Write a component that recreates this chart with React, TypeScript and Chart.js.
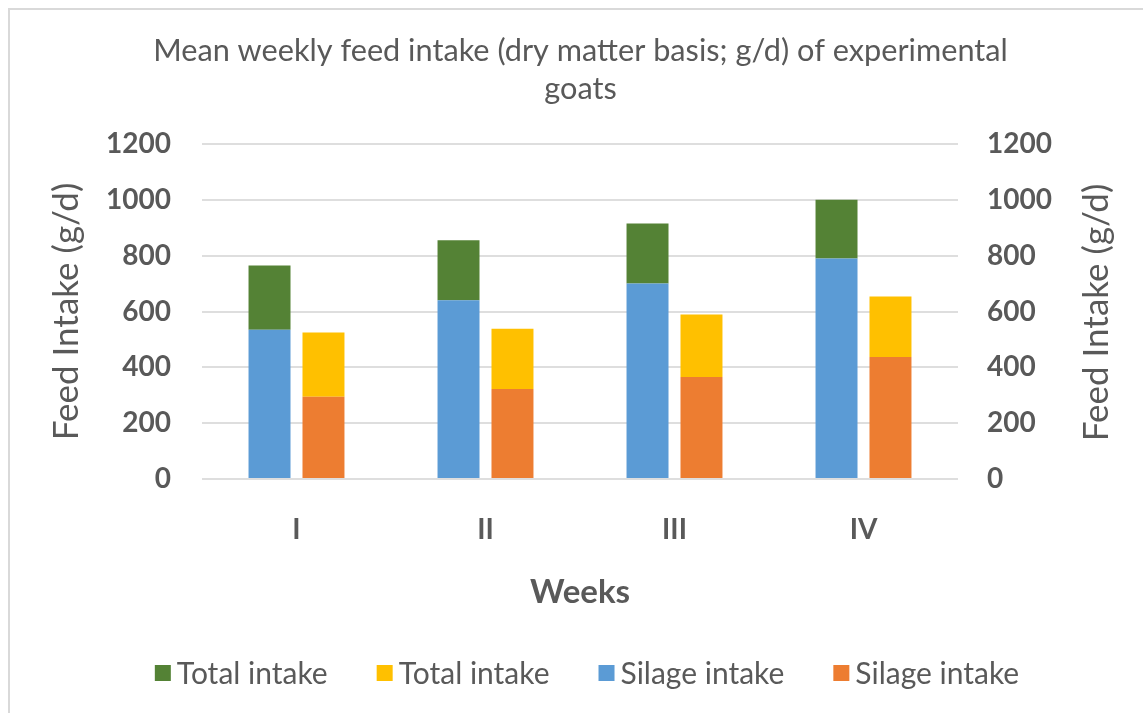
import { useEffect, useRef } from 'react';
import { Chart, registerables } from 'chart.js';

Chart.register(...registerables);

const weeks = ['I', 'II', 'III', 'IV'];
const silageLeft = [535, 640, 700, 790];
const totalTopLeft = [230, 215, 215, 210];
const silageRight = [295, 322, 365, 437];
const totalTopRight = [230, 216, 224, 217];
const yTickValues = [0, 200, 400, 600, 800, 1000, 1200];

const titleLines = ['Mean weekly feed intake (dry matter basis; g/d) of experimental', 'goats'];
const yTitle = 'Feed Intake (g/d)';
const xTitle = 'Weeks';

const GREEN = '#548235';
const YELLOW = '#FFC000';
const BLUE = '#5B9BD5';
const ORANGE = '#ED7D31';
const TEXT = '#595959';
const FONT = 'Lato';

const rightTitlePlugin = {
  id: 'rightTitle',
  afterDraw(chart: any) {
    const { ctx, chartArea } = chart;
    const s = chart.scales.y2;
    ctx.save();
    ctx.font = `35px ${FONT}`;
    ctx.fillStyle = TEXT;
    ctx.textAlign = 'center';
    ctx.textBaseline = 'middle';
    ctx.translate(s.right - 46, (chartArea.top + chartArea.bottom) / 2 + 1);
    ctx.rotate(-Math.PI / 2);
    ctx.fillText(yTitle, 0, 0);
    ctx.restore();
  },
};

const legendPlugin = {
  id: 'customLegend',
  afterDraw(chart: any) {
    const { ctx } = chart;
    const box = 16;
    const boxGap = 6;
    const itemGap = 49;
    ctx.save();
    ctx.font = `30px ${FONT}`;
    ctx.textBaseline = 'middle';
    ctx.textAlign = 'left';
    const items = chart.data.datasets.map((d: any) => ({
      text: d.label,
      color: d.backgroundColor,
      w: ctx.measureText(d.label).width,
    }));
    const total =
      items.reduce((a: number, it: any) => a + box + boxGap + it.w, 0) + itemGap * (items.length - 1);
    let x = 577 - total / 2;
    const cy = 663;
    items.forEach((it: any) => {
      ctx.fillStyle = it.color;
      ctx.fillRect(x, cy - box / 2, box, box);
      ctx.fillStyle = TEXT;
      ctx.fillText(it.text, x + box + boxGap, cy + 1);
      x += box + boxGap + it.w + itemGap;
    });
    ctx.restore();
  },
};

export default function App() {
  const ref = useRef<HTMLCanvasElement>(null);

  useEffect(() => {
    if (!ref.current) return;
    Chart.defaults.font.family = FONT;
    const chart = new Chart(ref.current, {
      type: 'bar',
      data: {
        labels: weeks,
        datasets: [
          { label: 'Total intake', data: totalTopLeft, backgroundColor: GREEN, stack: 'a', order: 2 },
          { label: 'Total intake', data: totalTopRight, backgroundColor: YELLOW, stack: 'b', order: 2 },
          { label: 'Silage intake', data: silageLeft, backgroundColor: BLUE, stack: 'a', order: 1 },
          { label: 'Silage intake', data: silageRight, backgroundColor: ORANGE, stack: 'b', order: 1 },
        ],
      },
      options: {
        animation: false,
        responsive: true,
        maintainAspectRatio: false,
        datasets: {
          bar: { categoryPercentage: 0.571, barPercentage: 0.778 },
        },
        layout: { padding: { left: 8, right: 0, top: 0, bottom: 96 } },
        plugins: {
          title: {
            display: true,
            text: titleLines,
            color: TEXT,
            font: { size: 30.7, weight: 'normal', lineHeight: 1.238 },
            padding: { top: 22, bottom: 36 },
          },
          legend: { display: false },
          tooltip: { enabled: false },
        },
        scales: {
          x: {
            stacked: true,
            grid: { display: false, drawTicks: false },
            border: { display: false },
            ticks: { color: TEXT, font: { size: 28, weight: 'bold' }, padding: 34 },
            title: {
              display: true,
              text: xTitle,
              color: TEXT,
              font: { size: 33, weight: 'bold' },
              padding: { top: 0, bottom: 5 },
            },
            afterFit: (s: any) => {
              s.height = 138;
            },
          },
          y: {
            stacked: true,
            position: 'left',
            min: 0,
            max: 1200,
            afterBuildTicks: (s: any) => {
              s.ticks = yTickValues.map((v) => ({ value: v }));
            },
            grid: { color: '#dedede', lineWidth: 2, drawTicks: false },
            border: { display: false },
            ticks: {
              color: TEXT,
              font: { size: 28, weight: 'bold' },
              padding: 31,
              callback: (v: any) => String(v),
            },
            title: {
              display: true,
              text: yTitle,
              color: TEXT,
              font: { size: 35, weight: 'normal' },
              padding: { top: 28, bottom: 0 },
            },
            afterFit: (s: any) => {
              s.width = 184;
            },
          },
          y2: {
            position: 'right',
            min: 0,
            max: 1200,
            afterBuildTicks: (s: any) => {
              s.ticks = yTickValues.map((v) => ({ value: v }));
            },
            grid: { display: false, drawTicks: false },
            border: { display: false },
            ticks: {
              color: TEXT,
              font: { size: 28, weight: 'bold' },
              padding: 29,
              callback: (v: any) => String(v),
            },
            afterFit: (s: any) => {
              s.width = 185;
            },
          },
        },
      },
      plugins: [rightTitlePlugin, legendPlugin],
    });
    return () => chart.destroy();
  }, []);

  return (
    <div style={{ position: 'fixed', left: 0, top: 0, width: 1143, height: 713, background: '#fff', overflow: 'hidden' }}>
      <div
        style={{
          position: 'absolute',
          left: 8,
          top: 8,
          width: 1135,
          height: 705,
          borderTop: '2px solid #d9d9d9',
          borderLeft: '2px solid #d9d9d9',
          boxSizing: 'border-box',
          background: '#fff',
        }}
      >
        <canvas ref={ref} />
      </div>
    </div>
  );
}
